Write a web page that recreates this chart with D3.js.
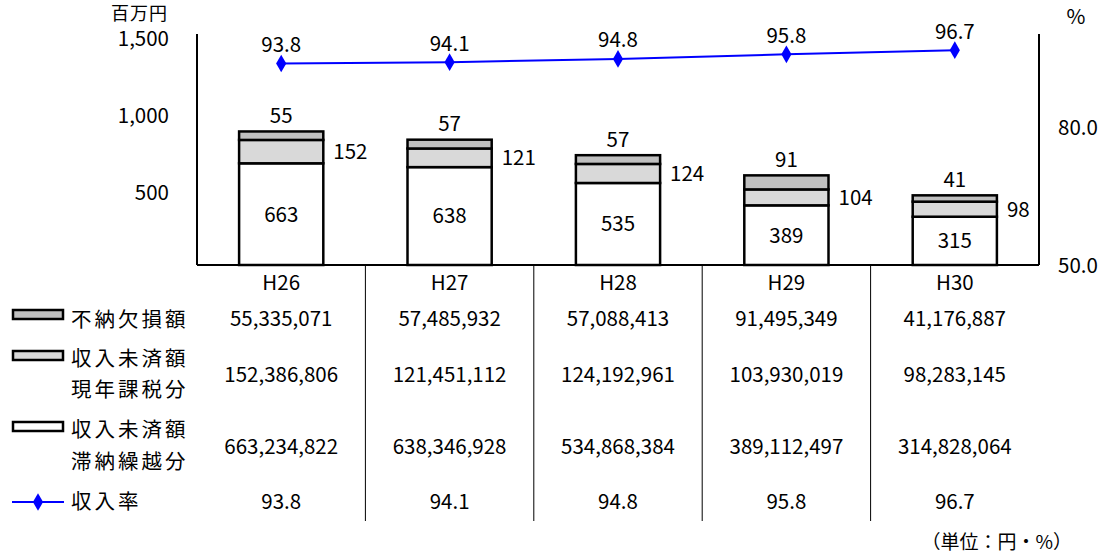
<!DOCTYPE html>
<html lang="ja">
<head>
<meta charset="utf-8">
<script src="https://cdn.jsdelivr.net/npm/d3@7"></script>
<style>
  html, body { margin: 0; padding: 0; background: #fff; }
  svg { display: block; font-family: "Noto Sans CJK JP", "Noto Sans", sans-serif; }
</style>
</head>
<body>
<svg id="chart" width="1106" height="555"></svg>
<script>
// 年度
const years = ["H26", "H27", "H28", "H29", "H30"];
// 不納欠損額（円）
const lossValues = [55335071, 57485932, 57088413, 91495349, 41176887];
// 収入未済額 現年課税分（円）
const currentValues = [152386806, 121451112, 124192961, 103930019, 98283145];
// 収入未済額 滞納繰越分（円）
const arrearsValues = [663234822, 638346928, 534868384, 389112497, 314828064];
// 収入率（%）
const rateValues = [93.8, 94.1, 94.8, 95.8, 96.7];
// 軸目盛
const leftTicks = [500, 1000, 1500];
const rightTicks = [50, 80];

const svg = d3.select("#chart");
const plotLeft = 197, plotRight = 1039, plotTop = 35, plotBase = 265;

const x = d3.scaleBand().domain(years).range([plotLeft, plotRight]).paddingInner(0).paddingOuter(0);
const yL = d3.scaleLinear().domain([0, 1500]).range([plotBase, plotTop]);
const yR = d3.scaleLinear().domain([50, 100]).range([plotBase, plotTop]);
const toM = v => v / 1e6;
const fmt = d3.format(",");
const FS = 20.5;

// 積み上げ（下から：滞納繰越分、現年課税分、不納欠損額）
const rows = years.map((yr, i) => ({
  year: yr,
  arrears: toM(arrearsValues[i]),
  current: toM(currentValues[i]),
  loss: toM(lossValues[i])
}));
const stack = d3.stack().keys(["arrears", "current", "loss"])(rows);
const fills = { arrears: "#ffffff", current: "#d9d9d9", loss: "#bfbfbf" };

const barW = x.bandwidth() * 0.5;
const cx = yr => x(yr) + x.bandwidth() / 2;

// 軸
svg.append("line").attr("x1", plotLeft).attr("x2", plotLeft).attr("y1", plotTop - 1).attr("y2", plotBase)
  .attr("stroke", "#000").attr("stroke-width", 2);
svg.append("line").attr("x1", plotRight).attr("x2", plotRight).attr("y1", plotTop - 1).attr("y2", plotBase)
  .attr("stroke", "#000").attr("stroke-width", 2);

svg.append("g").selectAll("text").data(leftTicks).join("text")
  .attr("x", 169).attr("y", d => yL(d) + 4).attr("dy", "0.36em")
  .attr("text-anchor", "end").attr("font-size", FS).text(d => fmt(d));
svg.append("g").selectAll("text").data(rightTicks).join("text")
  .attr("x", 1058).attr("y", d => yR(d) + 1).attr("dy", "0.36em")
  .attr("text-anchor", "start").attr("font-size", FS).text(d => d3.format(".1f")(d));
svg.append("text").attr("x", 168).attr("y", 14).attr("dy", "0.36em")
  .attr("text-anchor", "end").attr("font-size", 18).attr("letter-spacing", 1).text("百万円");
svg.append("text").attr("x", 1076).attr("y", 17).attr("dy", "0.36em")
  .attr("text-anchor", "middle").attr("font-size", FS).text("%");

// 棒
stack.forEach(layer => {
  svg.append("g").selectAll("rect").data(layer).join("rect")
    .attr("x", d => cx(d.data.year) - barW / 2)
    .attr("width", barW)
    .attr("y", d => yL(d[1]))
    .attr("height", d => yL(d[0]) - yL(d[1]))
    .attr("fill", fills[layer.key])
    .attr("stroke", "#000").attr("stroke-width", 2.5);
});

// 棒のラベル
const lbl = svg.append("g").attr("font-size", FS);
rows.forEach(r => {
  const c = cx(r.year);
  lbl.append("text").attr("x", c).attr("y", yL(r.arrears / 2)).attr("dy", "0.36em")
    .attr("text-anchor", "middle").text(Math.round(r.arrears));
  lbl.append("text").attr("x", c + barW / 2 + 10).attr("y", yL(r.arrears + r.current / 2)).attr("dy", "0.36em")
    .attr("text-anchor", "start").text(Math.round(r.current));
  lbl.append("text").attr("x", c).attr("y", yL(r.arrears + r.current + r.loss) - 16).attr("dy", "0.36em")
    .attr("text-anchor", "middle").text(Math.round(r.loss));
});

// 収入率
const line = d3.line().x((d, i) => cx(years[i])).y(d => yR(d));
svg.append("path").datum(rateValues).attr("d", line)
  .attr("fill", "none").attr("stroke", "#0000ff").attr("stroke-width", 2);
const diamond = d3.symbol().type(d3.symbolDiamond).size(90);
svg.append("g").selectAll("path").data(rateValues).join("path")
  .attr("transform", (d, i) => `translate(${cx(years[i])},${yR(d)})`)
  .attr("d", diamond).attr("fill", "#0000ff");
svg.append("g").attr("font-size", FS).selectAll("text").data(rateValues).join("text")
  .attr("x", (d, i) => cx(years[i])).attr("y", d => yR(d) - 19).attr("dy", "0.36em")
  .attr("text-anchor", "middle").text(d => d3.format(".1f")(d));

// 横軸
svg.append("line").attr("x1", plotLeft).attr("x2", plotRight).attr("y1", plotBase).attr("y2", plotBase)
  .attr("stroke", "#000").attr("stroke-width", 2);

// データ表
const tableBottom = 521;
svg.append("g").selectAll("line").data(years.slice(1)).join("line")
  .attr("x1", d => x(d)).attr("x2", d => x(d)).attr("y1", plotBase).attr("y2", tableBottom)
  .attr("stroke", "#000").attr("stroke-width", 1);

const tbl = svg.append("g").attr("font-size", FS).attr("text-anchor", "middle");
const rowY = [319, 375, 447, 502];
const tableRows = [lossValues, currentValues, arrearsValues];
years.forEach((yr, i) => {
  tbl.append("text").attr("x", cx(yr)).attr("y", 283).attr("dy", "0.36em").text(yr);
  tableRows.forEach((arr, r) => {
    tbl.append("text").attr("x", cx(yr)).attr("y", rowY[r]).attr("dy", "0.36em").text(fmt(arr[i]));
  });
  tbl.append("text").attr("x", cx(yr)).attr("y", rowY[3]).attr("dy", "0.36em")
    .text(d3.format(".1f")(rateValues[i]));
});

// 凡例
const legend = svg.append("g").attr("font-size", FS);
const swatches = [
  { fill: fills.loss, y: 315, lines: [["不納欠損額", 320]] },
  { fill: fills.current, y: 356, lines: [["収入未済額", 359], ["現年課税分", 390]] },
  { fill: fills.arrears, y: 427, lines: [["収入未済額", 430], ["滞納繰越分", 462]] }
];
swatches.forEach(s => {
  legend.append("rect").attr("x", 13).attr("y", s.y - 5).attr("width", 50).attr("height", 9)
    .attr("fill", s.fill).attr("stroke", "#000").attr("stroke-width", 2.5);
  s.lines.forEach(([t, y]) => {
    legend.append("text").attr("x", 71).attr("y", y).attr("dy", "0.36em")
      .attr("letter-spacing", 3).text(t);
  });
});
legend.append("line").attr("x1", 12).attr("x2", 64).attr("y1", 502).attr("y2", 502)
  .attr("stroke", "#0000ff").attr("stroke-width", 2);
legend.append("path").attr("transform", "translate(38,502)").attr("d", diamond).attr("fill", "#0000ff");
legend.append("text").attr("x", 71).attr("y", 502).attr("dy", "0.36em")
  .attr("letter-spacing", 3).text("収入率");

// 単位
svg.append("text").attr("x", 1072).attr("y", 542).attr("dy", "0.36em")
  .attr("text-anchor", "end").attr("font-size", 19).text("（単位：円・%）");
</script>
</body>
</html>
